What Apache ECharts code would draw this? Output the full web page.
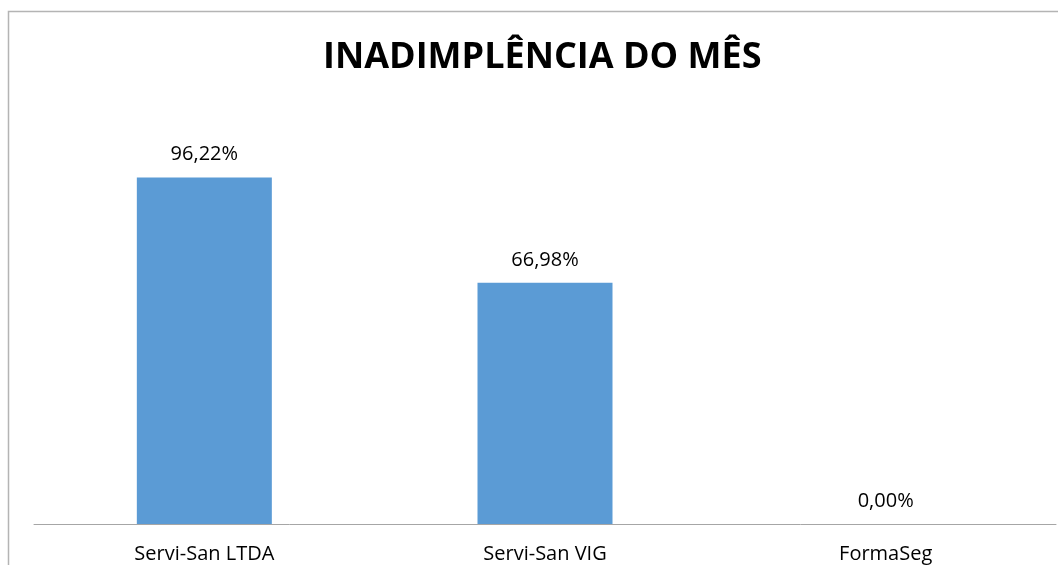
<!DOCTYPE html>
<html>
<head>
<meta charset="utf-8">
<script src="https://cdn.jsdelivr.net/npm/echarts@6/dist/echarts.min.js"></script>
<style>
  html, body { margin: 0; padding: 0; background: #fff; }
  #chart { width: 1058px; height: 565px; }
</style>
</head>
<body>
<div id="chart"></div>
<script>
// dados do gráfico
const categories = ['Servi-San LTDA', 'Servi-San VIG', 'FormaSeg']
const values = [96.22, 66.98, 0.00]
const titleText = 'INADIMPLÊNCIA DO MÊS'

const myChart = echarts.init(document.getElementById('chart'))
const option = {
  animation: false,
  title: {
    text: titleText,
    left: 318,
    top: 35,
    textStyle: {
      fontFamily: 'Open Sans',
      fontWeight: 'bold',
      fontSize: 36,
      color: '#000'
    }
  },
  // moldura cinza do gráfico
  graphic: [{
    type: 'rect',
    shape: { x: 8.5, y: 11.5, width: 1200, height: 700 },
    style: { fill: 'none', stroke: '#b4b4b4', lineWidth: 1.5 },
    silent: true
  }],
  grid: {
    left: 34,
    top: 92,
    width: 1022,
    bottom: 41
  },
  xAxis: {
    type: 'category',
    data: categories,
    axisLine: { lineStyle: { color: '#a6a6a6', width: 1 } },
    axisTick: { show: false },
    axisLabel: {
      color: '#000',
      fontFamily: 'Open Sans',
      fontSize: 20,
      margin: 20
    }
  },
  yAxis: {
    type: 'value',
    min: 0,
    max: 120,
    show: false,
    splitLine: { show: false }
  },
  series: [{
    type: 'bar',
    data: values,
    barWidth: 135,
    itemStyle: { color: '#5b9bd5' },
    label: {
      show: true,
      position: 'top',
      distance: 13,
      color: '#000',
      fontFamily: 'Open Sans',
      fontSize: 20,
      formatter: p => p.value.toFixed(2).replace('.', ',') + '%'
    }
  }]
}
myChart.setOption(option)
</script>
</body>
</html>
